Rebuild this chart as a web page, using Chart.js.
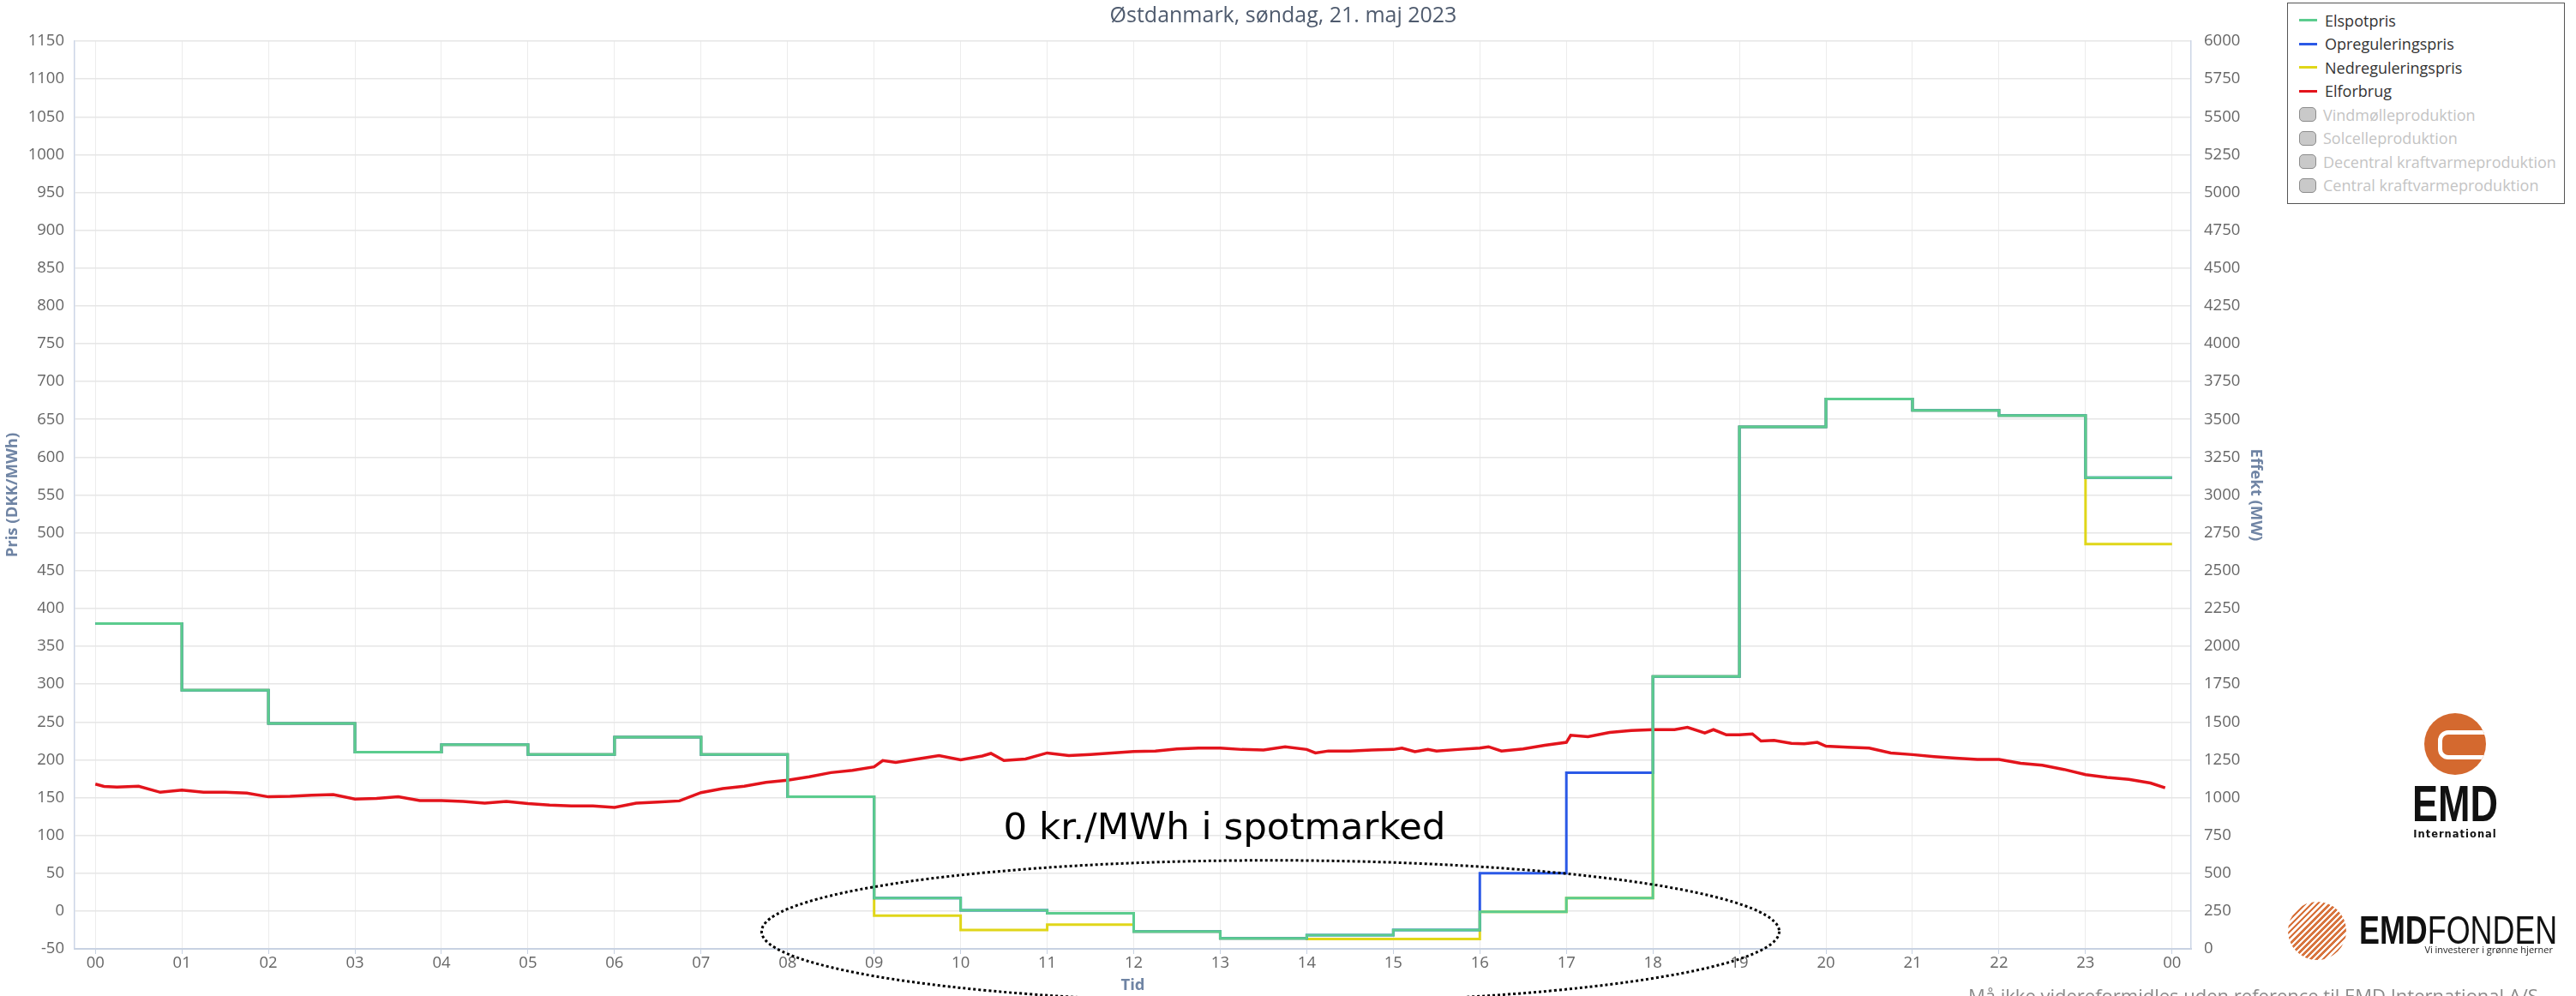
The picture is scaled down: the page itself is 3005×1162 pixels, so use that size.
<!DOCTYPE html>
<html>
<head>
<meta charset="utf-8">
<script src="https://cdn.jsdelivr.net/npm/chart.js@4.4.0/dist/chart.umd.min.js"></script>
<style>
  html, body { margin: 0; padding: 0; background: #fff; }
  #wrap { position: relative; width: 3005px; height: 1162px; overflow: hidden; font-family: 'Open Sans', sans-serif; }
  #chart { position: absolute; left: 0; top: 0; }
  #title { position: absolute; left: 1097px; width: 800px; top: 0px; text-align: center; font-size: 25px; line-height: 32px; color: #4f5b6e; }
  #legend { position: absolute; left: 2668px; top: 3px; width: 324px; height: 235px; border: 1.5px solid #555; box-sizing: border-box; padding-top: 6px; background: #fff; }
  .item { height: 27.5px; display: flex; align-items: center; font-size: 18px; color: #333; white-space: nowrap; }
  .item .line { width: 21px; height: 3px; margin-left: 13px; margin-right: 9px; }
  .item .box { width: 20px; height: 17px; border-radius: 5px; background: #c9c9c9; border: 1px solid #8c8c8c; margin-left: 13px; margin-right: 8px; box-sizing: border-box; }
  .item.off { color: #c4c4c4; }
  #emdlogo { position: absolute; left: 2828px; top: 832px; width: 72px; height: 72px; border-radius: 50%; background: #d4692f; overflow: hidden; }
  #emdlogo div { position: absolute; left: 16px; top: 20px; width: 66px; height: 34px; border: 5px solid #fff; border-radius: 12px; box-sizing: border-box; }
  #emdtext { position: absolute; left: 2764px; top: 908px; width: 200px; text-align: center; font-family: 'Liberation Sans', sans-serif; font-weight: bold; font-size: 60px; line-height: 60px; color: #111; transform: scaleX(0.75); }
  #emdsub { position: absolute; left: 2764px; top: 966px; width: 200px; text-align: center; font-family: 'DejaVu Sans', sans-serif; font-size: 11.5px; letter-spacing: 1px; color: #111; font-weight: bold; }
  #fondcircle { position: absolute; left: 2669px; top: 1052px; width: 68px; height: 68px; border-radius: 50%;
    background: repeating-linear-gradient(135deg, #d8743e 0px, #d8743e 2.5px, #fff 2.5px, #fff 5px); }
  #fondtext { position: absolute; left: 2752px; top: 1062px; font-family: 'Liberation Sans', sans-serif; font-size: 46px; line-height: 46px; color: #111; white-space: nowrap; transform: scaleX(0.78); transform-origin: left top; }
  #fondtext b { font-weight: 900; }
  #fondtext span { font-weight: 300; }
  #fondsub { position: absolute; left: 2728px; width: 250px; top: 1100px; text-align: right; font-size: 11px; color: #222; white-space: nowrap; }
  #note { position: absolute; left: 2296px; top: 1146px; font-size: 22px; color: #8a8a8a; white-space: nowrap; }
</style>
</head>
<body>
<div id="wrap">
  <canvas id="chart" width="3005" height="1162"></canvas>
  <div id="title">Østdanmark, søndag, 21. maj 2023</div>
  <div id="legend"></div>
  <div id="emdlogo"><div></div></div>
  <div id="emdtext">EMD</div>
  <div id="emdsub">International</div>
  <div id="fondcircle"></div>
  <div id="fondtext"><b>EMD</b><span>FONDEN</span></div>
  <div id="fondsub">Vi investerer i grønne hjerner</div>
  <div id="note">Må ikke videreformidles uden reference til EMD International A/S</div>
</div>
<script>
// Hour axis
const hourTicks = [0, 1, 2, 3, 4, 5, 6, 7, 8, 9, 10, 11, 12, 13, 14, 15, 16, 17, 18, 19, 20, 21, 22, 23, 24];
const hourLabels = ['00', '01', '02', '03', '04', '05', '06', '07', '08', '09', '10', '11',
  '12', '13', '14', '15', '16', '17', '18', '19', '20', '21', '22', '23', '00'];

// Hourly prices (DKK/MWh), last value repeated to close the final hour
const elspotPrice = [380, 292, 248, 210, 220, 207, 230, 207, 151, 17, 1, -3, -27, -36, -32, -25, -1, 17, 310, 640, 677, 662, 655, 573, 573];
const upRegPrice = [380, 292, 248, 210, 220, 207, 230, 207, 151, 17, 1, -3, -27, -36, -32, -25, 50, 183, 310, 640, 677, 662, 655, 573, 573];
const downRegPrice = [380, 292, 248, 210, 220, 207, 230, 207, 151, -6, -25, -18, -27, -36, -37, -37, -1, 17, 310, 640, 677, 662, 655, 485, 485];

// Consumption (MW)
const loadHours = [
  0, 0.1, 0.25, 0.5, 0.75,  1, 1.25, 1.5, 1.75,  2, 2.25, 2.5, 2.75,  3, 3.25, 3.5, 3.75,
  4, 4.25, 4.5, 4.75,  5, 5.25, 5.5, 5.75,  6, 6.25, 6.5, 6.75,  7, 7.25, 7.5, 7.75,
  8, 8.25, 8.5, 8.75,  9, 9.1, 9.25, 9.5, 9.75,  10, 10.25, 10.35, 10.5, 10.75,
  11, 11.25, 11.5, 11.75,  12, 12.25, 12.5, 12.75,  13, 13.25, 13.5, 13.75,
  14, 14.1, 14.25, 14.5, 14.75,  15, 15.1, 15.25, 15.4, 15.5, 15.75,
  16, 16.1, 16.25, 16.5, 16.75,  17, 17.05, 17.25, 17.5, 17.75,
  18, 18.25, 18.4, 18.6, 18.7, 18.85,  19, 19.15, 19.25, 19.4, 19.6, 19.75, 19.9,
  20, 20.25, 20.5, 20.75,  21, 21.25, 21.5, 21.75,  22, 22.25, 22.5, 22.75,
  23, 23.25, 23.5, 23.75, 23.92];
const loadMW = [
  1089, 1074, 1070, 1075, 1035,  1050, 1035, 1035, 1030,  1005, 1008, 1015, 1020,  990, 995, 1005, 980,
  980, 975, 963, 975,  960, 950, 945, 945,  935, 963, 970, 978,  1033, 1060, 1075, 1100,
  1115, 1137, 1165, 1180,  1203, 1245, 1233, 1255, 1278,  1250, 1275, 1292, 1245, 1255,
  1295, 1278, 1285, 1295,  1305, 1308, 1321, 1327,  1327, 1318, 1314, 1336,
  1318, 1295, 1308, 1308, 1314,  1318, 1327, 1303, 1318, 1308, 1318,
  1327, 1336, 1308, 1321, 1346,  1365, 1412, 1402, 1430, 1444,
  1449, 1449, 1464, 1427, 1449, 1415,  1415, 1421, 1374, 1378, 1359, 1355, 1365,
  1340, 1333, 1327, 1295,  1284, 1271, 1261, 1252,  1252, 1227, 1214, 1186,
  1152, 1133, 1120, 1096, 1064];

const hiddenSeries = ['Vindmølleproduktion', 'Solcelleproduktion', 'Decentral kraftvarmeproduktion', 'Central kraftvarmeproduktion'];

// Annotation, in data units
const noteText = '0 kr./MWh i spotmarked';
const noteHour = 13.05, notePrice = 108;
const ringHour = 13.58, ringPrice = -27, ringHalfHours = 5.88, ringHalfPrice = 94;

const toPoints = (xs, ys) => xs.map((x, i) => ({ x: x, y: ys[i] }));

const datasets = [
  { label: 'Elspotpris', data: toPoints(hourTicks, elspotPrice), borderColor: '#5bcc8e', borderWidth: 3, stepped: true, yAxisID: 'y' },
  { label: 'Opreguleringspris', data: toPoints(hourTicks, upRegPrice), borderColor: '#2b59e6', borderWidth: 3, stepped: true, yAxisID: 'y' },
  { label: 'Nedreguleringspris', data: toPoints(hourTicks, downRegPrice), borderColor: '#e0d619', borderWidth: 3, stepped: true, yAxisID: 'y' },
  { label: 'Elforbrug', data: toPoints(loadHours, loadMW), borderColor: '#e3141c', borderWidth: 3.5, yAxisID: 'y2' }
];
datasets.forEach(d => {
  d.pointRadius = 0;
  d.fill = false;
});

// HTML legend
const legendBox = document.getElementById('legend');
datasets.forEach(d => {
  legendBox.insertAdjacentHTML('beforeend',
    `<div class="item"><span class="line" style="background:${d.borderColor}"></span>${d.label}</div>`);
});
hiddenSeries.forEach(name => {
  legendBox.insertAdjacentHTML('beforeend', `<div class="item off"><span class="box"></span>${name}</div>`);
});

// Text and dotted ring drawn over the plot
const notePlugin = {
  id: 'notePlugin',
  afterDraw(chart) {
    const ctx = chart.ctx;
    const xs = chart.scales.x, ys = chart.scales.y;
    ctx.save();
    ctx.font = '43.5px "DejaVu Sans"';
    ctx.fillStyle = '#000';
    ctx.textAlign = 'center';
    ctx.textBaseline = 'middle';
    ctx.fillText(noteText, xs.getPixelForValue(noteHour), ys.getPixelForValue(notePrice));

    const cx = xs.getPixelForValue(ringHour);
    const cy = ys.getPixelForValue(ringPrice);
    const rx = xs.getPixelForValue(ringHour + ringHalfHours) - cx;
    const ry = cy - ys.getPixelForValue(ringPrice + ringHalfPrice);
    ctx.beginPath();
    ctx.ellipse(cx, cy, rx, ry, 0, 0, Math.PI * 2);
    ctx.setLineDash([3, 3]);
    ctx.lineWidth = 3;
    ctx.strokeStyle = '#000';
    ctx.stroke();
    ctx.restore();
  }
};

Chart.defaults.font.family = "'Open Sans', sans-serif";

const axisTitle = { display: true, color: '#6f84a4', font: { size: 18.5, weight: 'bold' }, padding: { top: 4, bottom: 1 } };
const tickFont = { size: 18.5 };

new Chart(document.getElementById('chart').getContext('2d'), {
  type: 'line',
  data: { datasets: datasets },
  options: {
    responsive: false,
    animation: false,
    devicePixelRatio: 1,
    layout: { padding: { top: 48, right: 359, bottom: 0, left: 0 } },
    plugins: {
      legend: { display: false },
      tooltip: { enabled: false },
      title: { display: false }
    },
    scales: {
      x: {
        type: 'linear',
        min: -0.24,
        max: 24.22,
        afterBuildTicks: s => { s.ticks = hourTicks.map(v => ({ value: v })); },
        afterFit: s => { s.height = 55; },
        ticks: { callback: (v, i) => hourLabels[i], font: tickFont, color: '#666', padding: 0, maxRotation: 0, autoSkip: false },
        grid: { color: '#ececec', tickLength: 6, tickColor: '#c8d2e2' },
        border: { color: '#c8d2e2', width: 2 },
        title: Object.assign({}, axisTitle, { text: 'Tid' })
      },
      y: {
        position: 'left',
        min: -50,
        max: 1150,
        afterFit: s => { s.width = 87; },
        ticks: { stepSize: 50, font: tickFont, color: '#666', padding: 12, callback: v => String(v) },
        grid: { color: '#e6e6e6', lineWidth: 1.5, drawTicks: false },
        border: { color: '#ccd5e6', width: 1.5 },
        title: Object.assign({}, axisTitle, { text: 'Pris (DKK/MWh)' })
      },
      y2: {
        position: 'right',
        min: 0,
        max: 6000,
        afterFit: s => { s.width = 90; },
        ticks: { stepSize: 250, font: tickFont, color: '#666', padding: 15, callback: v => String(v) },
        grid: { drawOnChartArea: false, drawTicks: false },
        border: { color: '#ccd5e6', width: 1.5 },
        title: Object.assign({}, axisTitle, { text: 'Effekt (MW)' })
      }
    }
  },
  plugins: [notePlugin]
});
</script>
</body>
</html>
